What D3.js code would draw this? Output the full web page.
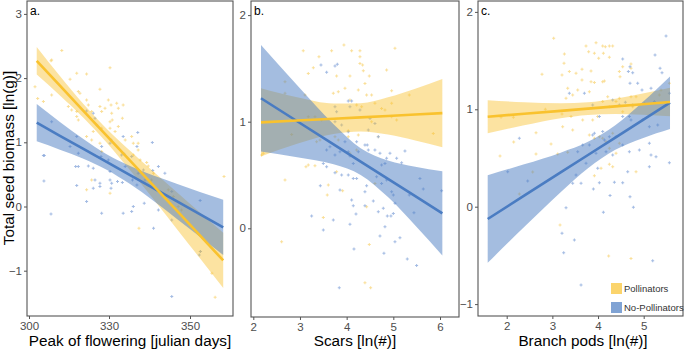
<!DOCTYPE html>
<html>
<head>
<meta charset="utf-8">
<script src="https://cdn.jsdelivr.net/npm/d3@7"></script>
<style>
  body { margin: 0; background: #fff; }
  svg { display: block; font-family: "Liberation Sans", Arial, sans-serif; }
</style>
</head>
<body>
<div id="main"></div>
<script>
// tick labels
const aTicksX = [300, 330, 350];
const bTicksX = [2, 3, 4, 5, 6];
const cTicksX = [2, 3, 4, 5];
const aTicksY = [-1, 0, 1, 2, 3];
const bTicksY = [0, 1, 2];
const cTicksY = [-1, 0, 1, 2];

const groups = ['Pollinators', 'No-Pollinators'];

// panel a: peak of flowering vs biomass, [x, y]
const aYellowPts = [
  [312.3,2.428],[308.5,2.283],[308.25,2.272],[302.25,1.867],[303.25,1.681],[305.4,1.634],[308.5,1.738],
  [315.4,1.982],[317.9,2.075],[321.6,2.065],[318.5,1.79],[319.1,1.764],[314.75,1.556],[317.9,1.478],
  [318.5,1.348],[321.6,1.66],[322.25,1.582],[323.5,1.478],[326.6,1.826],[326.6,1.556],[327.25,1.478],
  [328.5,1.53],[330.25,2.163],[330.66,1.452],[330.8,1.348],[330.25,1.322],[331.9,1.608],[332.3,1.53],
  [333.5,1.582],[333.3,1.374],[332.3,1.245],[321.6,1.089],[323.5,1.037],[326.6,0.985],[327.25,0.855],
  [334.0,1.037],[335.6,1.089],[336.0,0.985],[337.2,0.985],[337.2,0.881],[336.0,0.803],[337.7,0.726],
  [339.3,0.684],[339.7,0.632],[341.0,0.518],[323.5,0.414],[321.6,0.259],[330.25,0.207],[337.4,-0.338],
  [340.5,0.414],[344.65,0.259],[345.9,0.155],[347.1,0.0],[347.9,-0.053],[352.5,-0.702],[355.4,-1.039],
  [356.2,-1.413],[358.4,0.466],[327.25,1.219],[330.25,1.219],[331.5,1.167],[325.4,1.271],[324.1,1.167],
  [317.9,1.4],[316.0,1.504],[329.75,1.66],[330.5,1.582]
];
const aBluePts = [
  [305.4,0.793],[305.75,0.793],[305.6,0.399],[308.25,-0.115],[308.5,1.322],[315.4,0.933],[317.9,1.089],
  [318.5,0.829],[317.9,0.326],[317.5,0.622],[321.6,0.077],[322.25,0.632],[324.1,0.596],[324.75,0.414],
  [324.1,0.284],[326.6,0.362],[327.25,-0.105],[327.25,0.933],[327.0,0.778],[329.75,0.726],[330.25,0.544],
  [330.5,1.037],[330.66,0.362],[330.5,0.284],[332.1,0.388],[333.3,0.373],[333.5,-0.105],[333.5,1.089],
  [333.7,0.819],[335.6,0.778],[335.8,0.414],[335.6,-0.079],[336.0,0.0],[337.1,1.151],[336.9,0.933],
  [336.9,0.336],[338.5,0.57],[338.7,0.051],[340.7,0.995],[341.0,-0.338],[340.8,0.56],[342.2,0.622],
  [342.2,-0.053],[343.8,0.518],[345.5,0.233],[345.5,-0.209],[352.5,0.093],[352.3,-0.754],[352.6,-0.702],
  [345.5,-1.402],[324.1,1.452],[324.75,1.374],[321.6,1.489],[318.5,0.622],[330.25,0.985],[330.25,0.414],
  [333.1,0.803],[326.6,0.31],[334.0,0.622],[337.2,0.518],[338.9,0.414]
];
// fitted line with 95% band, [x, fit, lower, upper]
const aYellowFit = [
  [302.9,2.27,2.055,2.485],[311.6,1.881,1.729,2.033],[320.4,1.49,1.383,1.597],[329.1,1.104,0.997,1.211],
  [335.2,0.715,0.563,0.867],[346.7,-0.06,-0.345,0.225],[358.2,-0.84,-1.27,-0.41]
];
const aBlueFit = [
  [302.9,1.305,1.015,1.595],[311.6,1.101,0.885,1.317],[320.4,0.898,0.745,1.051],[329.1,0.694,0.574,0.814],
  [335.2,0.49,0.349,0.631],[346.7,0.083,-0.189,0.355],[358.2,-0.325,-0.755,0.105]
];

// panel b: scars
const bYellowPts = [
  [3.07,1.666],[3.678,1.666],[3.942,1.719],[4.107,1.666],[4.285,1.666],[4.285,1.61],[5.035,1.688],
  [3.407,1.61],[3.286,1.506],[3.178,1.453],[3.785,1.428],[4.071,1.428],[4.285,1.547],[4.342,1.531],
  [4.485,1.428],[4.392,1.359],[4.357,1.478],[4.856,1.485],[4.25,1.297],[4.428,1.25],[4.535,1.25],
  [4.606,1.172],[4.749,1.125],[4.821,1.109],[4.964,1.291],[5.342,1.25],[4.964,1.172],[3.714,1.266],
  [3.821,1.281],[3.964,1.313],[4.214,1.156],[4.321,1.141],[4.071,1.203],[2.679,1.375],[2.679,1.266],
  [2.822,0.881],[3.107,1.25],[3.178,1.047],[3.321,1.047],[3.464,1.016],[3.357,0.812],[3.428,0.828],
  [3.75,0.859],[3.821,0.828],[4.035,0.859],[4.035,0.915],[4.25,0.875],[5.071,1.016],[4.678,0.859],
  [4.535,1.0],[3.178,0.593],[3.128,0.578],[3.321,0.587],[3.607,0.406],[3.585,0.312],[3.5,0.102],
  [3.914,0.353],[3.785,0.531],[4.071,0.703],[4.214,0.734],[4.428,0.202],[4.485,-0.151],[4.392,-0.51],
  [4.514,-0.557],[2.607,-0.126],[2.679,0.453],[2.179,0.687],[2.215,0.703],[4.606,0.421],[5.856,0.89],
  [4.964,1.047]
];
const bBluePts = [
  [3.45,1.531],[3.75,1.522],[3.8,1.538],[3.571,1.463],[3.75,1.141],[3.785,1.094],[4.035,1.194],
  [4.107,1.194],[4.071,1.141],[3.75,1.0],[3.893,0.969],[4.035,0.906],[4.285,1.109],[4.5,1.031],
  [4.464,0.922],[4.678,0.859],[4.606,0.984],[4.214,0.812],[4.392,0.781],[4.442,0.781],[4.464,0.734],
  [4.606,0.734],[4.714,0.703],[4.856,0.656],[4.928,0.703],[4.749,0.593],[4.821,0.609],[5.071,0.656],
  [5.178,0.615],[5.249,0.725],[3.571,0.734],[3.643,0.765],[3.75,0.687],[3.857,0.718],[3.964,0.812],
  [4.035,0.718],[4.071,0.678],[4.25,0.718],[4.142,0.609],[3.5,0.609],[3.75,0.521],[3.893,0.5],
  [4.035,0.5],[4.142,0.468],[4.214,0.468],[4.428,0.4],[4.392,0.343],[4.642,0.484],[4.749,0.421],
  [4.856,0.453],[4.964,0.343],[5.0,0.312],[5.035,0.234],[5.342,0.312],[5.57,0.468],[5.642,0.368],
  [6.035,0.353],[4.107,0.265],[4.142,0.212],[4.571,0.256],[4.678,0.156],[4.785,0.187],[4.871,0.115],
  [5.0,0.14],[4.949,0.115],[5.442,0.146],[3.25,0.115],[3.5,-0.016],[3.714,0.077],[4.071,0.037],
  [4.2,0.134],[4.392,0.212],[4.714,-0.073],[4.821,0.015],[5.035,-0.126],[5.142,-0.088],[4.157,-0.195],
  [4.799,-0.235],[5.299,-0.288],[5.499,-0.348],[3.842,-0.557],[3.436,0.4],[3.857,0.359],[3.571,0.578]
];
const bYellowFit = [
  [2.165,0.994,0.674,1.314],[2.94,1.011,0.793,1.229],[3.72,1.028,0.885,1.171],[4.3,1.041,0.908,1.174],
  [4.885,1.054,0.879,1.229],[5.47,1.067,0.824,1.31],[6.05,1.08,0.76,1.4]
];
const bBlueFit = [
  [2.165,1.22,0.72,1.72],[2.94,1.004,0.667,1.341],[3.72,0.788,0.6,0.976],[4.3,0.626,0.501,0.751],
  [4.885,0.464,0.293,0.635],[5.47,0.302,0.027,0.577],[6.05,0.14,-0.255,0.535]
];

// panel c: branch pods
const cYellowPts = [
  [3.029,1.729],[3.737,1.65],[3.956,1.684],[4.102,1.65],[4.16,1.643],[4.248,1.65],[4.321,1.65],
  [3.795,1.592],[3.92,1.575],[4.117,1.575],[4.014,1.523],[4.248,1.534],[3.263,1.568],[3.255,1.472],
  [2.773,1.359],[3.372,1.387],[3.211,1.352],[3.518,1.369],[3.649,1.411],[3.847,1.393],[3.847,1.284],
  [3.92,1.274],[4.102,1.284],[4.139,1.291],[4.467,1.387],[4.482,1.335],[4.54,1.438],[4.722,1.465],
  [4.722,1.421],[3.649,1.301],[3.555,1.198],[3.336,1.215],[3.445,1.147],[3.299,1.113],[3.81,1.181],
  [4.212,1.13],[4.102,1.079],[4.394,1.079],[4.467,1.113],[4.722,1.13],[4.832,1.13],[4.759,1.027],
  [5.015,1.062],[5.343,1.147],[5.38,1.198],[5.562,1.267],[3.211,0.952],[3.409,0.925],[3.664,0.89],
  [3.883,0.89],[3.992,0.925],[4.248,1.027],[4.54,0.976],[2.846,1.0],[2.146,0.918],[1.876,0.918],
  [1.854,0.521],[2.153,0.665],[2.642,0.76],[2.971,0.644],[3.226,0.822],[3.445,0.788],[3.81,0.736],
  [3.92,0.702],[4.029,0.719],[4.102,0.702],[4.321,0.754],[4.175,0.668],[4.248,0.599],[4.467,0.651],
  [3.336,0.558],[3.117,0.541],[2.642,0.541],[2.277,0.131],[2.569,0.357],[3.92,0.319],[4.066,0.394],
  [4.248,0.435],[4.321,0.411],[4.394,0.548],[4.832,0.36],[3.168,-0.188],[4.233,-0.506],[4.722,-0.533]
];
const cBluePts = [
  [5.489,1.753],[5.248,1.558],[4.54,1.517],[4.7,1.438],[4.664,1.387],[4.759,1.376],[5.358,1.421],
  [5.401,1.376],[4.7,1.267],[4.868,1.267],[5.16,1.215],[4.963,1.198],[5.234,1.079],[5.562,1.164],
  [4.598,1.072],[4.321,1.096],[4.467,1.044],[4.759,1.044],[4.686,0.925],[4.54,0.925],[4.722,0.89],
  [4.978,0.89],[5.124,0.822],[5.307,0.839],[3.883,1.044],[3.701,1.164],[3.372,1.164],[4.029,0.925],
  [3.92,0.754],[3.883,0.736],[4.102,0.771],[4.139,0.685],[4.248,0.719],[4.394,0.719],[3.664,0.634],
  [3.555,0.565],[3.81,0.634],[3.956,0.548],[4.175,0.565],[4.321,0.531],[4.54,0.634],[4.686,0.565],
  [4.905,0.582],[5.124,0.651],[5.16,0.531],[5.27,0.514],[5.562,0.452],[2.277,0.702],[2.022,0.36],
  [2.46,0.264],[3.737,0.446],[3.518,0.326],[3.445,0.24],[3.628,0.24],[3.993,0.394],[3.898,0.182],
  [4.029,0.247],[4.358,0.25],[4.54,0.247],[4.263,0.114],[4.7,0.103],[4.774,-0.006],[5.124,0.411],
  [3.299,-0.01],[4.117,-0.057],[3.211,-0.273],[3.482,-0.342],[3.248,-0.472],[3.628,-0.804],
  [5.197,-0.554],[4.65,0.36]
];
const cYellowFit = [
  [1.584,0.924,0.754,1.094],[2.382,0.954,0.835,1.073],[3.181,0.984,0.907,1.062],[3.78,1.007,0.942,1.072],
  [4.378,1.03,0.951,1.109],[4.977,1.052,0.943,1.161],[5.576,1.075,0.929,1.221]
];
const cBlueFit = [
  [1.584,-0.126,-0.576,0.324],[2.382,0.113,-0.209,0.435],[3.181,0.352,0.149,0.555],[3.78,0.531,0.396,0.666],
  [4.378,0.71,0.584,0.836],[4.977,0.889,0.704,1.074],[5.576,1.068,0.798,1.338]
];

const colors = {
  yellow: '#F9C22E', yellowPt: '#F9D77E',
  blue: '#4A7CC2', bluePt: '#8CAADC'
};

const svg = d3.select('#main').append('svg')
  .attr('width', 685).attr('height', 349);

const panels = [
  { label: 'a.', left: 27, right: 233, top: 1, bottom: 316,
    x: d3.scaleLinear().domain([300, 330, 350]).range([29, 109, 190]),
    y: d3.scaleLinear().domain([-1, 3]).range([270.7, 13.9]),
    xTicks: aTicksX, yTicks: aTicksY,
    series: [[aYellowPts, aYellowFit], [aBluePts, aBlueFit]],
    title: 'Peak of flowering [julian days]', titleX: 130 },
  { label: 'b.', left: 251, right: 459, top: 1, bottom: 317,
    x: d3.scaleLinear().domain([2, 6]).range([253.3, 440]),
    y: d3.scaleLinear().domain([0, 2]).range([228.3, 15.1]),
    xTicks: bTicksX, yTicks: bTicksY,
    series: [[bYellowPts, bYellowFit], [bBluePts, bBlueFit]],
    title: 'Scars [ln(#)]', titleX: 355 },
  { label: 'c.', left: 478, right: 683, top: 1, bottom: 316,
    x: d3.scaleLinear().domain([2, 5]).range([506.7, 643.7]),
    y: d3.scaleLinear().domain([-1, 2]).range([304.1, 11.9]),
    xTicks: cTicksX, yTicks: cTicksY,
    series: [[cYellowPts, cYellowFit], [cBluePts, cBlueFit]],
    title: 'Branch pods [ln(#)]', titleX: 583 }
];

const styles = [
  { line: colors.yellow, pt: colors.yellowPt },
  { line: colors.blue, pt: colors.bluePt }
];

panels.forEach(p => {
  const g = svg.append('g');

  // points
  p.series.forEach(([pts], i) => {
    g.append('g').selectAll('path')
      .data(pts)
      .enter()
      .append('path')
      .attr('d', d3.symbol(d3.symbolCross, 5))
      .attr('transform', d => `translate(${p.x(d[0])},${p.y(d[1])})`)
      .attr('fill', styles[i].pt)
      .attr('opacity', 0.8);
  });

  // confidence ribbons
  p.series.forEach(([, fit], i) => {
    g.append('path')
      .datum(fit)
      .attr('fill', styles[i].line)
      .attr('opacity', i === 0 ? 0.45 : 0.5)
      .attr('d', d3.area()
        .curve(d3.curveMonotoneX)
        .x(d => p.x(d[0]))
        .y0(d => p.y(d[2]))
        .y1(d => p.y(d[3])));
  });

  // fitted lines
  p.series.slice().reverse().forEach(([, fit], j) => {
    const i = 1 - j;
    g.append('path')
      .datum(fit)
      .attr('fill', 'none')
      .attr('stroke', styles[i].line)
      .attr('stroke-width', 2.6)
      .attr('d', d3.line()
        .x(d => p.x(d[0]))
        .y(d => p.y(d[1])));
  });

  // frame
  g.append('rect')
    .attr('x', p.left).attr('y', p.top)
    .attr('width', p.right - p.left).attr('height', p.bottom - p.top)
    .attr('fill', 'none').attr('stroke', '#555').attr('stroke-width', 1.1);

  const xAxis = g.append('g')
    .attr('transform', `translate(0,${p.bottom})`)
    .call(d3.axisBottom(p.x).tickValues(p.xTicks).tickSize(3).tickSizeOuter(0).tickPadding(3)
      .tickFormat(d3.format('d')));
  const yAxis = g.append('g')
    .attr('transform', `translate(${p.left},0)`)
    .call(d3.axisLeft(p.y).tickValues(p.yTicks).tickSize(3).tickSizeOuter(0).tickPadding(2)
      .tickFormat(d => d < 0 ? '\u2212' + Math.abs(d) : d));
  [xAxis, yAxis].forEach(ax => {
    ax.select('.domain').remove();
    ax.selectAll('line').attr('stroke', '#555');
    ax.selectAll('text').attr('fill', '#4d4d4d').style('font-size', '11.5px')
      .style('font-family', '"Liberation Sans", Arial, sans-serif');
  });

  g.append('text')
    .attr('x', p.left + 3).attr('y', p.top + 14)
    .style('font-size', '12px')
    .text(p.label);

  g.append('text')
    .attr('x', p.titleX).attr('y', 345.5)
    .attr('text-anchor', 'middle')
    .style('font-size', '15.3px')
    .text(p.title);
});

svg.append('text')
  .attr('transform', 'translate(14,158) rotate(-90)')
  .attr('text-anchor', 'middle')
  .style('font-size', '15.3px')
  .text('Total seed biomass [ln(g)]');

// legend
const legend = svg.append('g');
groups.forEach((name, i) => {
  legend.append('rect')
    .attr('x', 611).attr('y', 283 + i * 19)
    .attr('width', 11).attr('height', 11)
    .attr('fill', styles[i].line)
    .attr('opacity', 0.7);
  legend.append('text')
    .attr('x', 624).attr('y', 292 + i * 19)
    .style('font-size', '9.5px')
    .attr('fill', '#333')
    .text(name);
});
</script>
</body>
</html>
